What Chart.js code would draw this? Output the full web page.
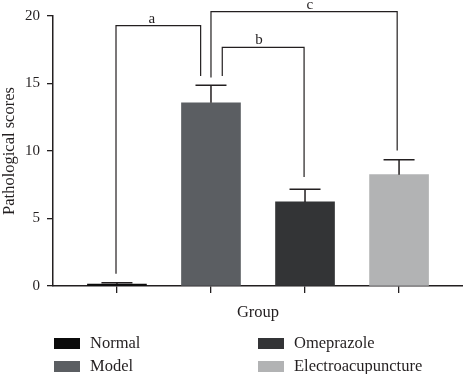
<!DOCTYPE html>
<html><head><meta charset="utf-8">
<script src="https://cdn.jsdelivr.net/npm/chart.js@4/dist/chart.umd.min.js"></script>
<style>
html,body{margin:0;padding:0;background:#fff;}
#wrap{position:relative;width:463px;height:374px;overflow:hidden;}
canvas{position:absolute;left:0;top:0;}
.item{position:absolute;height:20px;display:flex;align-items:center;font-family:"Liberation Serif",serif;font-size:16.5px;color:#231f20;white-space:nowrap;}
.box{display:inline-block;width:26px;height:11px;margin-right:10px;}
</style></head><body>
<div id="wrap"><canvas id="c" width="463" height="374"></canvas><div id="legend"></div></div>
<script>
const groups = ['Normal','Model','Omeprazole','Electroacupuncture'];
const groupPos = [0,1,2,3];
const means = [0.15, 13.57, 6.23, 8.25];
const errors = [0.1, 1.3, 0.93, 1.11];
const colors = ['#0b0b0b','#5b5e62','#333436','#b2b3b4'];
const yTicks = [0,5,10,15,20];
// significance brackets (data units)
const bracketLabels = ['a','b','c'];
const bracketX1 = [-0.01, 1.12, 1.0];
const bracketX2 = [0.89, 1.99, 2.98];
const bracketY1 = [0.9, 15.56, 15.44];
const bracketY2 = [15.56, 8.07, 10.04];
const bracketTop = [19.28, 17.67, 20.33];
const bracketLabelX = [0.37, 1.51, 2.05];

const FONT = '"Liberation Serif", "Times New Roman", serif';
const INK = '#231f20';

const overlay = {
  id:'overlay',
  afterDraw(chart){
    const {ctx, scales:{x, y}} = chart;
    ctx.save();
    ctx.strokeStyle = INK; ctx.lineWidth = 1.5;
    groupPos.forEach((g,i)=>{
      const px = x.getPixelForValue(g);
      const pb = y.getPixelForValue(means[i]);
      const pt = y.getPixelForValue(means[i]+errors[i]);
      ctx.beginPath();
      ctx.moveTo(px,pb); ctx.lineTo(px,pt);
      ctx.moveTo(px-15.5,pt); ctx.lineTo(px+15.5,pt);
      ctx.stroke();
    });
    ctx.lineWidth = 1.2;
    ctx.fillStyle = INK;
    ctx.font = '15px ' + FONT;
    ctx.textAlign = 'center';
    ctx.textBaseline = 'alphabetic';
    bracketLabels.forEach((lab,i)=>{
      const x1 = x.getPixelForValue(bracketX1[i]);
      const x2 = x.getPixelForValue(bracketX2[i]);
      const y1 = y.getPixelForValue(bracketY1[i]);
      const y2 = y.getPixelForValue(bracketY2[i]);
      const yt = y.getPixelForValue(bracketTop[i]);
      ctx.beginPath();
      ctx.moveTo(x1,y1); ctx.lineTo(x1,yt); ctx.lineTo(x2,yt); ctx.lineTo(x2,y2);
      ctx.stroke();
      ctx.fillText(lab, x.getPixelForValue(bracketLabelX[i]), yt-3);
    });
    ctx.restore();
  }
};

new Chart(document.getElementById('c'), {
  type:'bar',
  data:{
    datasets:[{
      data: groupPos.map((g,i)=>({x:g, y:means[i]})),
      backgroundColor: colors,
      borderWidth: 0,
      barThickness: 59
    }]
  },
  options:{
    responsive:false,
    animation:false,
    layout:{padding:{top:15,right:0,bottom:51,left:0}},
    plugins:{legend:{display:false},tooltip:{enabled:false}},
    scales:{
      x:{
        type:'linear',
        offset:false,
        min:-0.68, max:3.68,
        afterBuildTicks(s){ s.ticks = groupPos.map(v=>({value:v})); },
        afterFit(s){ s.height = 37; },
        ticks:{autoSkip:false, callback:()=>'', font:{family:FONT,size:15}},
        grid:{display:true, offset:false, drawOnChartArea:false, drawTicks:true, tickLength:7, color:INK, lineWidth:1.3},
        border:{display:true, color:INK, width:1.5},
        title:{display:true, text:'Group', color:INK, font:{family:FONT,size:16.5,lineHeight:1.2}, padding:{top:0,bottom:0}}
      },
      y:{
        min:0, max:20,
        afterBuildTicks(s){ s.ticks = yTicks.map(v=>({value:v})); },
        afterFit(s){ s.width = 53; },
        ticks:{color:INK, padding:7, font:{family:FONT,size:15}},
        grid:{display:true, drawOnChartArea:false, drawTicks:true, tickLength:6, color:INK, lineWidth:1.3},
        border:{display:true, color:INK, width:1.5},
        title:{display:true, text:'Pathological scores', color:INK, font:{family:FONT,size:16.5,lineHeight:1.2}, padding:{top:0,bottom:0}}
      }
    }
  },
  plugins:[overlay]
});

// legend: two columns (Normal, Model | Omeprazole, Electroacupuncture)
const legend = document.getElementById('legend');
const colLeft = [54, 258];
const rowTop = [333, 356];
groups.forEach((g,i)=>{
  const col = Math.floor(i/2), row = i%2;
  const d = document.createElement('div');
  d.className = 'item';
  d.style.left = colLeft[col]+'px';
  d.style.top = rowTop[row]+'px';
  d.innerHTML = '<span class="box" style="background:'+colors[i]+'"></span><span>'+g+'</span>';
  legend.appendChild(d);
});
</script>
</body></html>
